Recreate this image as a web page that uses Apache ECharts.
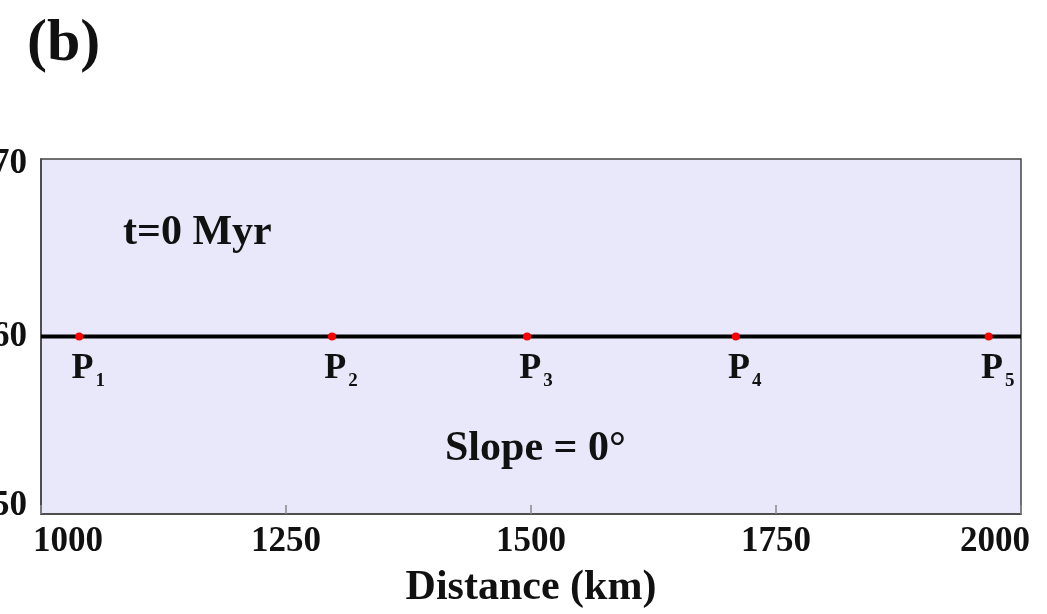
<!DOCTYPE html>
<html>
<head>
<meta charset="utf-8">
<script src="https://cdn.jsdelivr.net/npm/echarts@6/dist/echarts.min.js"></script>
<style>
  html, body { margin: 0; padding: 0; background: #fff; }
  #chart { width: 1047px; height: 614px; }
</style>
</head>
<body>
<div id="chart"></div>
<script>
// Profile section at t = 0: flat horizon with five sample points
const distanceRange = [1000, 2000];
const xTicks = [1000, 1250, 1500, 1750, 2000];
const yTicks = [50, 60, 70];
const profileDistance = [1000, 2000];
const profileLevel = [60, 60];
const pointNames = ['1', '2', '3', '4', '5'];
const pointDistance = [1039, 1297, 1496, 1709, 1967];
const pointLevel = [60, 60, 60, 60, 60];

const FONT = '"Liberation Serif", "Times New Roman", serif';

const chart = echarts.init(document.getElementById('chart'), null, { renderer: 'canvas' });

const profileData = profileDistance.map((d, i) => [d, profileLevel[i]]);
const pointData = pointDistance.map((d, i) => ({ value: [d, pointLevel[i]], name: pointNames[i] }));

const tickText = { fontFamily: FONT, fontWeight: 'bold', fontSize: 35, color: '#111' };

chart.setOption({
  animation: false,
  backgroundColor: '#ffffff',
  grid: {
    left: 41, right: 26, top: 159, bottom: 100,
    containLabel: false,
    outerBoundsMode: 'none',
    show: true,
    backgroundColor: '#e8e8fa',
    borderColor: '#444',
    borderWidth: 1.5
  },
  xAxis: {
    type: 'value',
    min: distanceRange[0], max: distanceRange[1], interval: 250,
    name: 'Distance (km)',
    nameLocation: 'middle',
    nameGap: 53,
    nameTextStyle: { fontFamily: FONT, fontWeight: 'bold', fontSize: 42, color: '#111' },
    axisLine: { show: true, lineStyle: { color: '#444', width: 1.5 } },
    axisTick: { show: true, inside: true, length: 9, lineStyle: { color: '#888', width: 1.5 } },
    splitLine: { show: false },
    axisLabel: {
      margin: 10,
      formatter: function (v) {
        if (v === xTicks[0]) return '{l|' + v + '}';
        if (v === xTicks[xTicks.length - 1]) return '{r|' + v + '}';
        return '{n|' + v + '}';
      },
      rich: {
        n: tickText,
        l: Object.assign({}, tickText, { padding: [0, 0, 0, 54] }),
        r: Object.assign({}, tickText, { padding: [0, 52, 0, 0] })
      }
    }
  },
  yAxis: {
    type: 'value',
    min: yTicks[0], max: yTicks[yTicks.length - 1], interval: 10,
    axisLine: { show: true, lineStyle: { color: '#444', width: 1.5 } },
    axisTick: { show: false },
    splitLine: { show: false },
    axisLabel: {
      margin: 14,
      formatter: function (v) {
        if (v === yTicks[yTicks.length - 1]) return '{t|' + v + '}';
        if (v === yTicks[0]) return '{b|' + v + '}';
        return '{n|' + v + '}';
      },
      rich: {
        n: tickText,
        t: Object.assign({}, tickText, { padding: [10, 0, 0, 0] }),
        b: Object.assign({}, tickText, { padding: [0, 0, 16, 0] })
      }
    }
  },
  graphic: [
    { type: 'text', left: 27, top: 14, style: { text: '(b)', font: 'bold 60px ' + FONT, fill: '#111' } },
    { type: 'text', left: 123, top: 212, style: { text: 't=0 Myr', font: 'bold 42px ' + FONT, fill: '#111' } },
    { type: 'text', left: 445, top: 428, style: { text: 'Slope = 0\u00b0', font: 'bold 42px ' + FONT, fill: '#111' } }
  ],
  series: [
    {
      type: 'line',
      data: profileData,
      showSymbol: false,
      lineStyle: { color: '#000', width: 4 },
      z: 2
    },
    {
      type: 'scatter',
      data: pointData,
      symbol: 'circle',
      symbolSize: 8,
      itemStyle: { color: '#ff0000', opacity: 1 },
      z: 3,
      label: {
        show: true,
        position: 'bottom',
        distance: 8,
        offset: [9, -1],
        opacity: 1,
        formatter: function (p) { return '{p|P}{s|' + p.name + '}'; },
        rich: {
          p: { fontFamily: FONT, fontWeight: 'bold', fontSize: 36, color: '#111', opacity: 1 },
          s: { fontFamily: FONT, fontWeight: 'bold', fontSize: 19, color: '#111', opacity: 1, padding: [24, 0, 0, 2] }
        }
      }
    }
  ]
});
</script>
</body>
</html>
